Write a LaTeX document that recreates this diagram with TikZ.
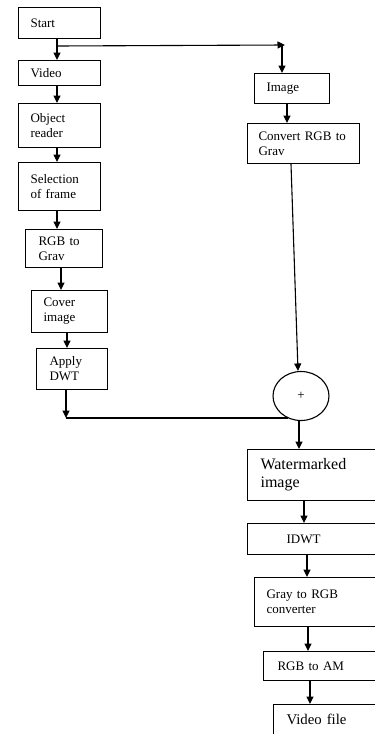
\documentclass[tikz,border=0pt]{standalone}
\usepackage{fontspec}
\setmainfont{Liberation Serif}
\usetikzlibrary{arrows.meta,shapes.geometric}
\begin{document}
\begin{tikzpicture}[x=1pt,y=-1pt,
  box/.style={draw, line width=1.1pt, rectangle, anchor=north west, align=left,
    font=\fontsize{13}{15}\selectfont, inner ysep=0pt},
  arr/.style={line width=1.1pt, -{Triangle[length=7.5pt,width=7pt]}},
  ln/.style={line width=1.1pt}]
\useasboundingbox (0,0) rectangle (375,734);
% left column
\node[box, minimum width=82pt, minimum height=31pt, text width=58pt, inner xsep=12pt] (start) at (18,7) {Start};
\node[box, minimum width=82pt, minimum height=25pt, text width=58pt, inner xsep=12pt] (video) at (18,60) {Video};
\node[box, minimum width=82pt, minimum height=44pt, text width=58pt, inner xsep=12pt] (objreader) at (18,103) {Object\\reader};
\node[box, minimum width=82pt, minimum height=48pt, text width=58pt, inner xsep=12pt] (selection) at (18,162) {Selection\\of frame};
\node[box, minimum width=77pt, minimum height=38pt, text width=51pt, inner xsep=13pt] (rgbgrav) at (25,229) {RGB to\\Grav};
\node[box, minimum width=76pt, minimum height=42pt, text width=52pt, inner xsep=12pt] (cover) at (31,290) {Cover\\image};
\node[box, minimum width=71pt, minimum height=41pt, text width=45pt, inner xsep=13pt] (apply) at (36,348) {Apply\\DWT};
% right column
\node[box, minimum width=75pt, minimum height=30pt, text width=51pt, inner xsep=12pt] (image) at (254,73) {Image};
\node[box, minimum width=112pt, minimum height=40pt, text width=90pt, inner xsep=11pt] (convert) at (247,123) {Convert RGB to\\Grav};
\node[draw, ellipse, line width=1.1pt, minimum width=56pt, minimum height=49pt, inner sep=0pt,
  font=\fontsize{13}{15}\selectfont] (sum) at (301,396) {+};
\node[box, minimum width=150pt, minimum height=51pt, text width=124pt, inner xsep=13pt,
  font=\fontsize{16}{18}\selectfont] (water) at (247,449) {Watermarked\\image};
\node[box, minimum width=150pt, minimum height=31pt, text width=72pt, inner xsep=39pt] (idwt) at (247,523) {IDWT};
\node[box, minimum width=150pt, minimum height=49pt, text width=126pt, inner xsep=12pt] (gray) at (254,577) {Gray to RGB\\converter};
\node[box, minimum width=150pt, minimum height=29pt, text width=122pt, inner xsep=14pt] (rgbam) at (263,651) {RGB to AM};
\node[box, minimum width=150pt, text width=124pt, inner xsep=13pt, inner ysep=3pt,
  text height=17pt, text depth=30pt, font=\fontsize{14.8}{17}\selectfont] (videofile) at (273,704) {Video file};
% connectors left
\draw[arr] (start.south -| 57,0) -- (video.north -| 57,0);
\coordinate (br) at (57,46);
\coordinate (corner) at (285,45);
\draw[arr] (br) -- (corner);
\draw[arr] (282,45) -- (image.north -| 282,0);
\draw[arr] (video.south -| 57,0) -- (objreader.north -| 57,0);
\draw[arr] (objreader.south -| 57,0) -- (selection.north -| 57,0);
\draw[arr] (selection.south -| 57,0) -- (rgbgrav.north -| 57,0);
\draw[arr] (rgbgrav.south -| 61,0) -- (cover.north -| 61,0);
\draw[arr] (cover.south -| 67,0) -- (apply.north -| 67,0);
\coordinate (j) at (66,418);
\draw[arr] (apply.south -| 66,0) -- (j);
\draw[ln] (j) -- (j -| sum.240);
% connectors right
\draw[arr] (image.south -| 287,0) -- (convert.north -| 287,0);
\draw[arr] (convert.south -| 291,0) -- ([xshift=-3pt]sum.north);
\draw[arr] (sum.south -| 299,0) -- (water.north -| 299,0);
\draw[arr] (water.south -| 304,0) -- (idwt.north -| 304,0);
\draw[arr] (idwt.south -| 307,0) -- (gray.north -| 307,0);
\draw[arr] (gray.south -| 308,0) -- (rgbam.north -| 308,0);
\draw[arr] (rgbam.south -| 310,0) -- (videofile.north -| 310,0);
\end{tikzpicture}
\end{document}
